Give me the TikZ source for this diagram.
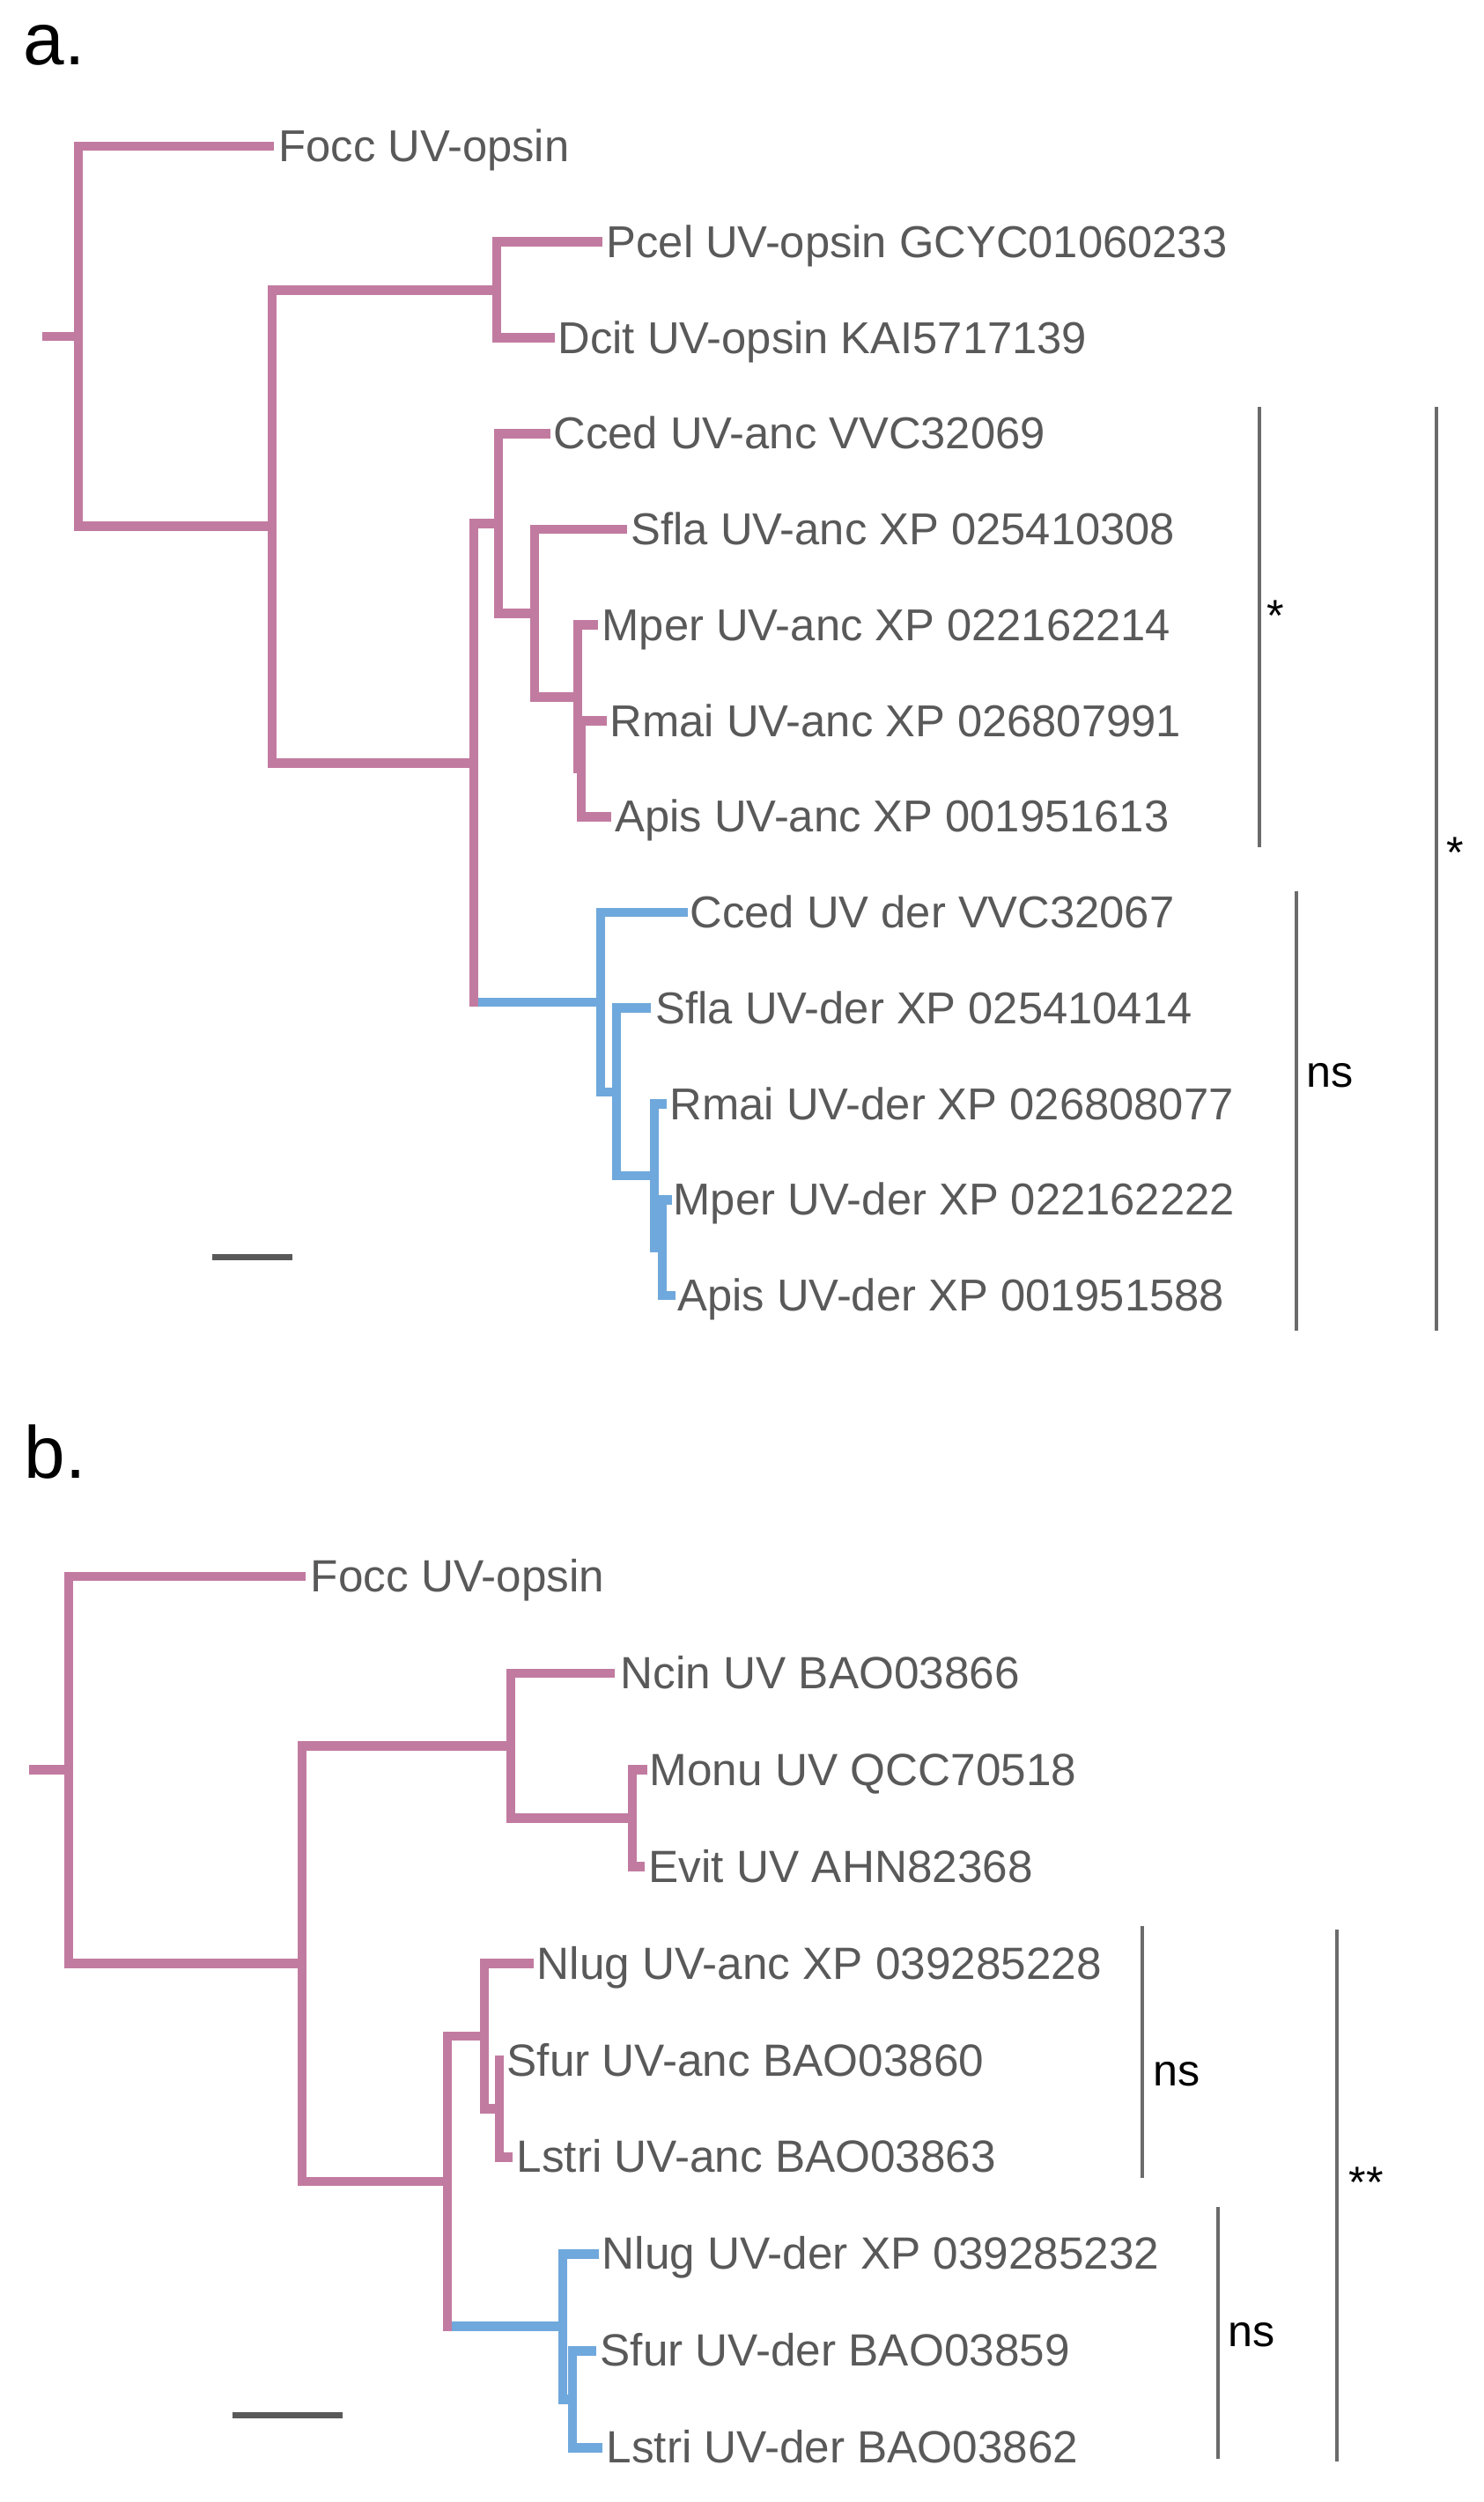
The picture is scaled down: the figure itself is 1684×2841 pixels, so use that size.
\documentclass[tikz,border=0pt]{standalone}
\usepackage{fontspec}
\setmainfont{Liberation Sans}
\definecolor{pk}{HTML}{C27BA0}
\definecolor{bl}{HTML}{6FA8DC}
\definecolor{tx}{HTML}{595959}
\definecolor{brc}{HTML}{6B6B6B}
\begin{document}
\begin{tikzpicture}[x=0.01cm,y=-0.01cm,
  branch/.style={line width=3.05pt, line join=miter, line cap=butt},
  lab/.style={anchor=west, inner sep=0pt, text=tx, text height=0.35cm, text depth=0pt,
    font=\fontsize{14.42}{17}\selectfont},
  labb/.style={lab, font=\fontsize{14.58}{17}\selectfont},
  sig/.style={anchor=base west, inner sep=0pt, text=black, font=\fontsize{14.3}{17}\selectfont},
  panel/.style={anchor=base west, inner sep=0pt, text=black, font=\fontsize{23.8}{28}\selectfont},
  bracket/.style={draw=brc, line width=1.15pt},
  scalebar/.style={draw=tx, line width=2pt}]
\useasboundingbox[fill=white] (0,0) rectangle (1684,2841);

% ================= panel a =================
\node[panel] (pa) at (26,73) {a.};
% internal nodes
\coordinate (aS) at (48,381.9);
\coordinate (aR) at (89,381.9);
\coordinate (aN2) at (309,597.8);
\coordinate (aN3) at (564,329.4);
\coordinate (aN4) at (538,866.2);
\coordinate (aA1) at (566,594.3);
\coordinate (aA2) at (607,696.4);
\coordinate (aA3) at (656,791.25);
\coordinate (aA4) at (660,872.75);
\coordinate (aD1) at (682,1138);
\coordinate (aD2) at (700,1240);
\coordinate (aD3) at (743,1335);
\coordinate (aD4) at (752,1416.6);
% leaf ends
\coordinate (aFocc) at (311,166);
\coordinate (aPcel) at (684,274.75);
\coordinate (aDcit) at (630,383.5);
\coordinate (aCcedA) at (625,492.25);
\coordinate (aSflaA) at (712,601);
\coordinate (aMperA) at (679,709.75);
\coordinate (aRmaiA) at (689,818.5);
\coordinate (aApisA) at (694,927.25);
\coordinate (aCcedD) at (781,1036);
\coordinate (aSflaD) at (739,1144.75);
\coordinate (aRmaiD) at (757,1253.5);
\coordinate (aMperD) at (763,1362.25);
\coordinate (aApisD) at (767,1471);
% labels
\node[lab] (taFocc) at (316,166) {Focc UV-opsin};
\node[lab] (taPcel) at (688,274.75) {Pcel UV-opsin GCYC01060233};
\node[lab] (taDcit) at (633,383.5) {Dcit UV-opsin KAI5717139};
\node[lab] (taCcedA) at (628,492.25) {Cced UV-anc VVC32069};
\node[lab] (taSflaA) at (716,601) {Sfla UV-anc XP 025410308};
\node[lab] (taMperA) at (683,709.75) {Mper UV-anc XP 022162214};
\node[lab] (taRmaiA) at (692,818.5) {Rmai UV-anc XP 026807991};
\node[lab] (taApisA) at (698,927.25) {Apis UV-anc XP 001951613};
\node[lab] (taCcedD) at (783,1036) {Cced UV der VVC32067};
\node[lab] (taSflaD) at (744,1144.75) {Sfla UV-der XP 025410414};
\node[lab] (taRmaiD) at (760,1253.5) {Rmai UV-der XP 026808077};
\node[lab] (taMperD) at (764,1362.25) {Mper UV-der XP 022162222};
\node[lab] (taApisD) at (769,1471) {Apis UV-der XP 001951588};
% branches (blue part first)
\draw[branch,bl] (aN4 |- aD1) -- (aD1);
\draw[branch,bl] (aD1) |- (aCcedD);
\draw[branch,bl] (aD1) |- (aD2);
\draw[branch,bl] (aD2) |- (aSflaD);
\draw[branch,bl] (aD2) |- (aD3);
\draw[branch,bl] (aD3) |- (aRmaiD);
\draw[branch,bl] (aD3) |- (aD4);
\draw[branch,bl] (aD4) |- (aMperD);
\draw[branch,bl] (aD4) |- (aApisD);
\draw[branch,pk] (aS) -- (aR);
\draw[branch,pk] (aR) |- (aFocc);
\draw[branch,pk] (aR) |- (aN2);
\draw[branch,pk] (aN2) |- (aN3);
\draw[branch,pk] (aN2) |- (aN4);
\draw[branch,pk] (aN3) |- (aPcel);
\draw[branch,pk] (aN3) |- (aDcit);
\draw[branch,pk] (aN4) |- (aA1);
\draw[branch,pk,line cap=rect] (aN4) -- (aN4 |- aD1);
\draw[branch,pk] (aA1) |- (aCcedA);
\draw[branch,pk] (aA1) |- (aA2);
\draw[branch,pk] (aA2) |- (aSflaA);
\draw[branch,pk] (aA2) |- (aA3);
\draw[branch,pk] (aA3) |- (aMperA);
\draw[branch,pk] (aA3) |- (aA4);
\draw[branch,pk] (aA4) |- (aRmaiA);
\draw[branch,pk] (aA4) |- (aApisA);
% scale bar
\coordinate (aSb1) at (241,1427);
\coordinate (aSb2) at (332,1427);
\draw[scalebar] (aSb1) -- (aSb2);
% brackets
\coordinate (aB1t) at (1430,462); \coordinate (aB1b) at (1430,962);
\coordinate (aB2t) at (1472,1012); \coordinate (aB2b) at (1472,1511);
\coordinate (aB3t) at (1631,462); \coordinate (aB3b) at (1631,1511);
\draw[bracket] (aB1t) -- (aB1b);
\draw[bracket] (aB2t) -- (aB2b);
\draw[bracket] (aB3t) -- (aB3b);
\node[sig] (aL1) at (1438,716) {*};
\node[sig] (aL2) at (1483,1234) {ns};
\node[sig] (aL3) at (1642,985) {*};

% ================= panel b =================
\node[panel] (pb) at (27,1678) {b.};
\coordinate (bS) at (33,2009.8);
\coordinate (bR) at (78,2009.8);
\coordinate (bN2) at (343,2229.6);
\coordinate (bN3) at (580,1982.3);
\coordinate (bN5) at (718,2064.75);
\coordinate (bN4) at (508,2476.9);
\coordinate (bA1) at (550,2312);
\coordinate (bA2) at (567,2394.45);
\coordinate (bD1) at (639,2641.7);
\coordinate (bD2) at (650,2724.15);
\coordinate (bFocc) at (347,1790);
\coordinate (bNcin) at (698,1899.9);
\coordinate (bMonu) at (735,2009.8);
\coordinate (bEvit) at (732,2119.7);
\coordinate (bNlugA) at (606,2229.6);
\coordinate (bSfurA) at (572,2339.5);
\coordinate (bLstriA) at (582,2449.4);
\coordinate (bNlugD) at (680,2559.3);
\coordinate (bSfurD) at (677,2669.2);
\coordinate (bLstriD) at (684,2779.1);
\node[labb] (tbFocc) at (352,1790) {Focc UV-opsin};
\node[labb] (tbNcin) at (704,1899.9) {Ncin UV BAO03866};
\node[labb] (tbMonu) at (737,2009.8) {Monu UV QCC70518};
\node[labb] (tbEvit) at (736,2119.7) {Evit UV AHN82368};
\node[labb] (tbNlugA) at (609,2229.6) {Nlug UV-anc XP 039285228};
\node[labb] (tbSfurA) at (575,2339.5) {Sfur UV-anc BAO03860};
\node[labb] (tbLstriA) at (586,2449.4) {Lstri UV-anc BAO03863};
\node[labb] (tbNlugD) at (683,2559.3) {Nlug UV-der XP 039285232};
\node[labb] (tbSfurD) at (681,2669.2) {Sfur UV-der BAO03859};
\node[labb] (tbLstriD) at (688,2779.1) {Lstri UV-der BAO03862};
\draw[branch,bl] (bN4 |- bD1) -- (bD1);
\draw[branch,bl] (bD1) |- (bNlugD);
\draw[branch,bl] (bD1) |- (bD2);
\draw[branch,bl] (bD2) |- (bSfurD);
\draw[branch,bl] (bD2) |- (bLstriD);
\draw[branch,pk] (bS) -- (bR);
\draw[branch,pk] (bR) |- (bFocc);
\draw[branch,pk] (bR) |- (bN2);
\draw[branch,pk] (bN2) |- (bN3);
\draw[branch,pk] (bN2) |- (bN4);
\draw[branch,pk] (bN3) |- (bNcin);
\draw[branch,pk] (bN3) |- (bN5);
\draw[branch,pk] (bN5) |- (bMonu);
\draw[branch,pk] (bN5) |- (bEvit);
\draw[branch,pk] (bN4) |- (bA1);
\draw[branch,pk,line cap=rect] (bN4) -- (bN4 |- bD1);
\draw[branch,pk] (bA1) |- (bNlugA);
\draw[branch,pk] (bA1) |- (bA2);
\draw[branch,pk] (bA2) |- (bSfurA);
\draw[branch,pk] (bA2) |- (bLstriA);
\coordinate (bSb1) at (264,2742);
\coordinate (bSb2) at (389,2742);
\draw[scalebar] (bSb1) -- (bSb2);
\coordinate (bB1t) at (1297,2187); \coordinate (bB1b) at (1297,2473);
\coordinate (bB2t) at (1383,2506); \coordinate (bB2b) at (1383,2792);
\coordinate (bB3t) at (1518,2191); \coordinate (bB3b) at (1518,2795);
\draw[bracket] (bB1t) -- (bB1b);
\draw[bracket] (bB2t) -- (bB2b);
\draw[bracket] (bB3t) -- (bB3b);
\node[sig] (bL1) at (1309,2368) {ns};
\node[sig] (bL2) at (1394,2664) {ns};
\node[sig] (bL3) at (1531,2495) {**};
\end{tikzpicture}
\end{document}
